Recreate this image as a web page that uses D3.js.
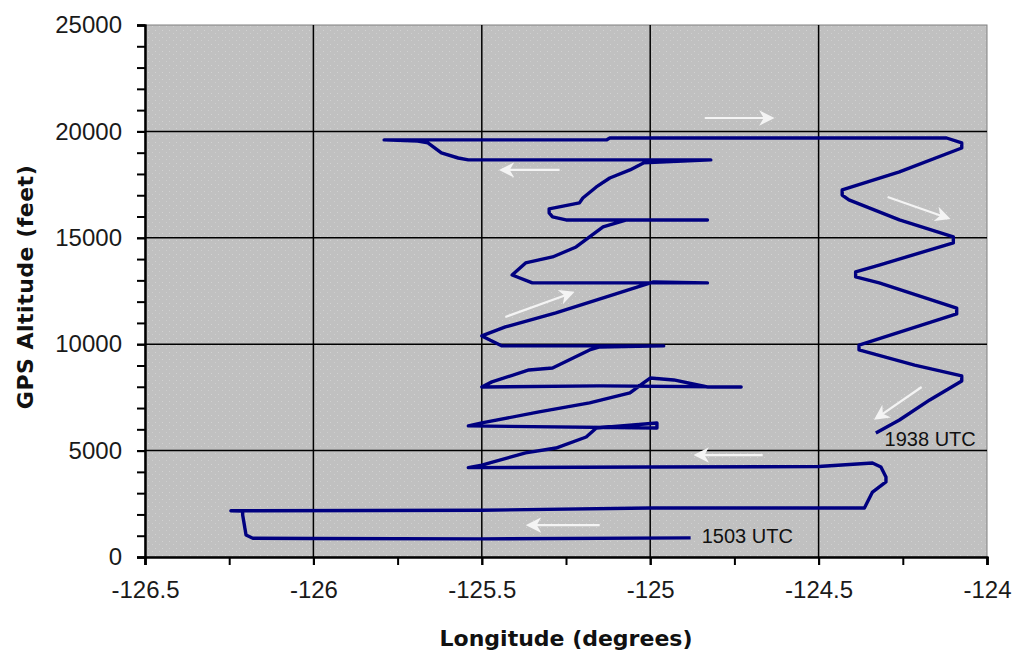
<!DOCTYPE html>
<html>
<head>
<meta charset="utf-8">
<script src="https://cdn.jsdelivr.net/npm/d3@7"></script>
<style>
  body { margin: 0; background: #fff; }
  svg { display: block; }
</style>
</head>
<body>
<svg id="chart-container"></svg>
<script>
// Flight track, in flight order (1503 UTC -> 1938 UTC)
const lon = [
  -124.88, -125.5, -126.0, -126.18, -126.20, -126.21, -126.21, -126.245,
  -125.5, -125.0, -124.364, -124.34, -124.30, -124.30, -124.315, -124.34,
  -124.5, -125.0, -125.54,
  -125.50, -125.37, -125.28, -125.19, -125.16, -124.98, -124.98,
  -125.54,
  -125.50, -125.33, -125.18, -125.06, -125.02, -125.00,
  -124.93, -124.83, -124.73,
  -125.15, -125.50,
  -125.47, -125.36, -125.29, -125.18, -125.15,
  -124.96,
  -125.44, -125.50,
  -125.43, -125.28, -125.13, -124.99,
  -124.83,
  -125.35, -125.41,
  -125.37, -125.29, -125.22, -125.18, -125.14, -125.09, -125.07,
  -124.83,
  -125.25, -125.29, -125.30, -125.30, -125.27, -125.21, -125.20, -125.16, -125.12, -125.06, -125.02,
  -124.82,
  -125.54, -125.57, -125.62, -125.66, -125.69,
  -125.79,
  -125.13, -125.12, -124.12,
  -124.075, -124.075, -124.26, -124.43, -124.43, -124.41, -124.26, -124.10, -124.10,
  -124.32, -124.39, -124.39, -124.32, -124.09, -124.09, -124.38, -124.38, -124.215,
  -124.075, -124.075, -124.17, -124.26, -124.33
];
const alt = [
  900, 850, 870, 880, 1030, 1970, 2160, 2170,
  2200, 2300, 2300, 3050, 3530, 3760, 4230, 4420,
  4250, 4230, 4200,
  4320, 4890, 5120, 5640, 6060, 6300, 6060,
  6160,
  6300, 6820, 7240, 7710, 8180, 8410,
  8320, 7990, 7990,
  8040, 7990,
  8230, 8790, 8880, 9730, 9870,
  9920,
  9920, 10390,
  10810, 11470, 12220, 12930,
  12880,
  12880, 13250,
  13820, 14100, 14570, 15040, 15510, 15750, 15840,
  15840,
  15840, 15980, 16170, 16360, 16450, 16640, 16870, 17390, 17810, 18190, 18520,
  18660,
  18660, 18750, 18990, 19460, 19550,
  19600,
  19600, 19690, 19690,
  19460, 19220, 18100, 17250, 17010, 16780, 15840, 15040, 14760,
  13720, 13400, 13160, 12880, 11700, 11420, 9960, 9730, 9020,
  8510, 8270, 7380, 6440, 5830
];

// White direction arrows (start -> end, data units)
const arrowFromLon = [-124.838, -125.269, -125.43, -124.295, -124.194, -124.666, -125.15];
const arrowFromAlt = [20630, 18190, 11280, 16920, 7990, 4790, 1500];
const arrowToLon = [-124.64, -125.44, -125.233, -124.117, -124.328, -124.862, -125.36];
const arrowToAlt = [20630, 18190, 12410, 15930, 6530, 4790, 1500];

// Time labels
const labelText = ["1503 UTC", "1938 UTC"];
const labelLon = [-124.847, -124.304];
const labelAlt = [660, 5220];

// Axis ticks
const xTicks = [-126.5, -126, -125.5, -125, -124.5, -124];
const xMinorTicks = d3.range(-126.5, -123.99, 0.25);
const yTicks = [0, 5000, 10000, 15000, 20000, 25000];
const yMinorTicks = d3.range(0, 25001, 1000);

const svgWidth = 1014;
const svgHeight = 656;
const margin = { top: 25, right: 27, bottom: 99, left: 145 };

const svg = d3.select("#chart-container")
  .attr("width", svgWidth)
  .attr("height", svgHeight);

const xScale = d3.scaleLinear()
  .domain([-126.5, -124])
  .range([margin.left, svgWidth - margin.right]);

const yScale = d3.scaleLinear()
  .domain([0, 25000])
  .range([svgHeight - margin.bottom, margin.top]);

// Dotted gray plot background
const defs = svg.append("defs");
const pat = defs.append("pattern")
  .attr("id", "dots")
  .attr("width", 7)
  .attr("height", 7)
  .attr("patternUnits", "userSpaceOnUse");
pat.append("rect").attr("width", 7).attr("height", 7).attr("fill", "#c0c0c0");
pat.append("rect").attr("x", 1).attr("y", 2).attr("width", 1).attr("height", 1).attr("fill", "#d2d2d2");
pat.append("rect").attr("x", 5).attr("y", 5).attr("width", 1).attr("height", 1).attr("fill", "#cecece");

svg.append("rect")
  .attr("x", xScale(-126.5))
  .attr("y", yScale(25000))
  .attr("width", xScale(-124) - xScale(-126.5))
  .attr("height", yScale(0) - yScale(25000))
  .attr("fill", "url(#dots)")
  .attr("stroke", "#808080")
  .attr("stroke-width", 1);

// Gridlines
svg.append("g")
  .selectAll("line")
  .data(xTicks.slice(1, -1))
  .enter().append("line")
  .attr("x1", d => xScale(d))
  .attr("x2", d => xScale(d))
  .attr("y1", yScale(0))
  .attr("y2", yScale(25000))
  .attr("stroke", "#000")
  .attr("stroke-width", 1.5);

svg.append("g")
  .selectAll("line")
  .data(yTicks.slice(1, -1))
  .enter().append("line")
  .attr("x1", xScale(-126.5))
  .attr("x2", xScale(-124))
  .attr("y1", d => yScale(d))
  .attr("y2", d => yScale(d))
  .attr("stroke", "#000")
  .attr("stroke-width", 1.5);

// Flight track
const line = d3.line()
  .x(d => xScale(d[0]))
  .y(d => yScale(d[1]));

svg.append("path")
  .datum(lon.map((d, i) => [d, alt[i]]))
  .attr("d", line)
  .attr("fill", "none")
  .attr("stroke", "#000080")
  .attr("stroke-width", 3.4)
  .attr("stroke-linejoin", "round");

// Arrows
defs.append("marker")
  .attr("id", "head")
  .attr("viewBox", "0 0 10 10")
  .attr("refX", 8)
  .attr("refY", 5)
  .attr("markerWidth", 7)
  .attr("markerHeight", 7)
  .attr("markerUnits", "strokeWidth")
  .attr("orient", "auto")
  .append("path")
  .attr("d", "M0,0 L10,5 L0,10 L3,5 Z")
  .attr("fill", "#f4f4f4");

svg.append("g")
  .selectAll("line")
  .data(arrowFromLon)
  .enter().append("line")
  .attr("x1", (d, i) => xScale(d))
  .attr("y1", (d, i) => yScale(arrowFromAlt[i]))
  .attr("x2", (d, i) => xScale(arrowToLon[i]))
  .attr("y2", (d, i) => yScale(arrowToAlt[i]))
  .attr("stroke", "#f4f4f4")
  .attr("stroke-width", 2.2)
  .attr("marker-end", "url(#head)");

// Time labels
svg.append("g")
  .selectAll("text")
  .data(labelText)
  .enter().append("text")
  .attr("x", (d, i) => xScale(labelLon[i]))
  .attr("y", (d, i) => yScale(labelAlt[i]))
  .attr("font-family", "Liberation Sans, Arial, sans-serif")
  .attr("font-size", 20)
  .attr("fill", "#111")
  .text(d => d);

// Axes
const fmt = d => String(d);

const xMinor = svg.append("g")
  .attr("transform", `translate(0,${yScale(0)})`)
  .call(d3.axisBottom(xScale).tickValues(xMinorTicks).tickSize(8).tickFormat(""));
const xAxis = svg.append("g")
  .attr("transform", `translate(0,${yScale(0)})`)
  .call(d3.axisBottom(xScale).tickValues(xTicks).tickSize(8).tickPadding(16).tickFormat(fmt));

const yMinor = svg.append("g")
  .attr("transform", `translate(${xScale(-126.5)},0)`)
  .call(d3.axisLeft(yScale).tickValues(yMinorTicks).tickSize(8).tickFormat(""));
const yAxis = svg.append("g")
  .attr("transform", `translate(${xScale(-126.5)},0)`)
  .call(d3.axisLeft(yScale).tickValues(yTicks).tickSize(8).tickPadding(15).tickFormat(fmt));

[xMinor, xAxis, yMinor, yAxis].forEach(g => {
  g.selectAll("path.domain").attr("stroke", "#000").attr("stroke-width", 2);
  g.selectAll(".tick line").attr("stroke", "#000").attr("stroke-width", 2);
  g.selectAll("text")
    .attr("font-family", "Liberation Sans, Arial, sans-serif")
    .attr("font-size", 24)
    .attr("fill", "#1a1a1a");
});

// Axis titles
svg.append("text")
  .attr("x", (xScale(-126.5) + xScale(-124)) / 2)
  .attr("y", 646)
  .attr("text-anchor", "middle")
  .attr("font-family", "DejaVu Sans, sans-serif")
  .attr("font-weight", "bold")
  .attr("font-size", 22)
  .attr("fill", "#111")
  .text("Longitude (degrees)");

svg.append("text")
  .attr("transform", "translate(33,287) rotate(-90)")
  .attr("text-anchor", "middle")
  .attr("font-family", "DejaVu Sans, sans-serif")
  .attr("font-weight", "bold")
  .attr("font-size", 22)
  .attr("letter-spacing", 0.5)
  .attr("fill", "#111")
  .text("GPS Altitude (feet)");
</script>
</body>
</html>
